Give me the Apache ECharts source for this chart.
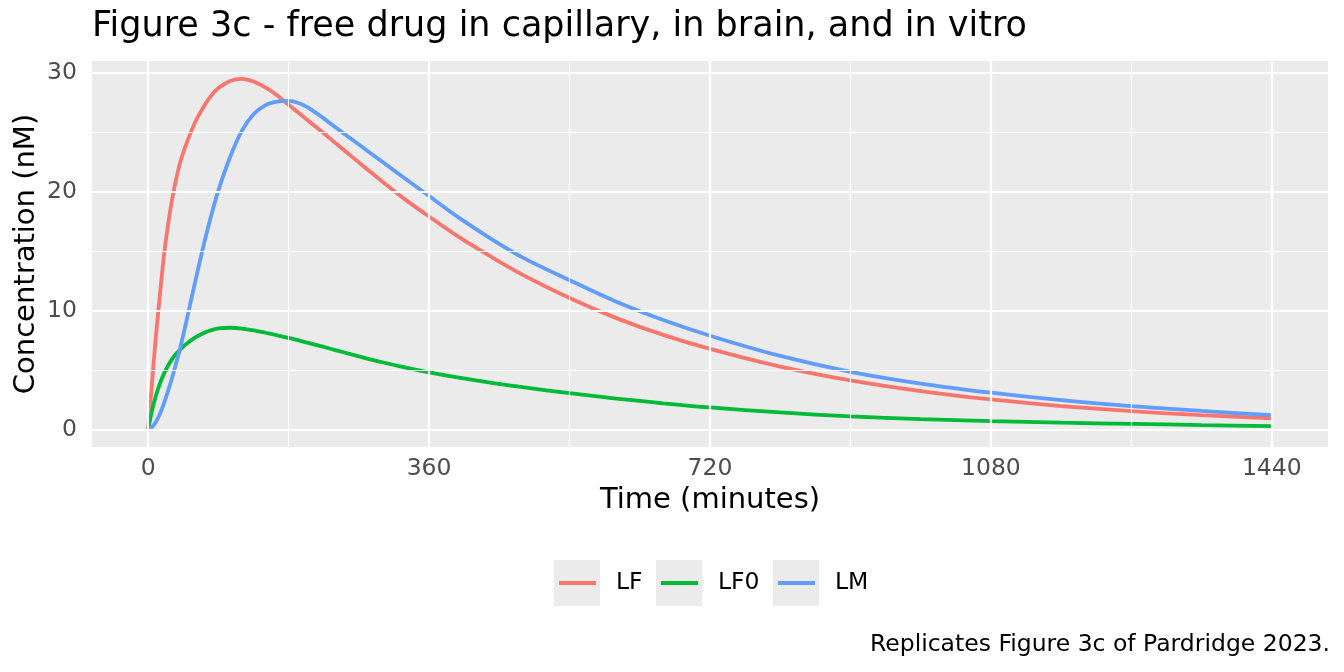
<!DOCTYPE html>
<html>
<head>
<meta charset="utf-8">
<script src="https://cdn.jsdelivr.net/npm/echarts@6/dist/echarts.min.js"></script>
<style>
  html, body { margin: 0; padding: 0; background: #fff; }
  #chart { width: 1344px; height: 672px; }
</style>
</head>
<body>
<div id="chart"></div>
<script>
// time points (minutes) (nM)
var times = [0, 5, 10, 15, 20, 25, 30, 35, 40, 45, 50, 60, 70, 80, 90, 105, 120, 135, 150, 165, 180,
  195, 210, 225, 240, 270, 300, 330, 360, 400, 440, 480, 540, 600, 660, 720, 810, 900, 990,
  1080, 1170, 1260, 1350, 1440];

var lf = [0, 4.0, 7.9, 11.3, 14.5, 17.0, 19.1, 20.8, 22.2, 23.3, 24.2, 25.8, 27.0, 28.0, 28.7, 29.3, 29.47, 29.25, 28.75, 28.1, 27.3,
  26.5, 25.7, 24.9, 24.08, 22.45, 20.85, 19.3, 17.9, 16.1, 14.5, 13.0, 11.05, 9.36, 7.95, 6.78, 5.29, 4.13, 3.23,
  2.52, 1.97, 1.54, 1.2, 0.94];

var lf0 = [0, 1.6, 2.85, 3.85, 4.65, 5.3, 5.85, 6.3, 6.65, 6.97, 7.25, 7.72, 8.07, 8.33, 8.5, 8.55, 8.48, 8.33, 8.13, 7.92, 7.7,
  7.45, 7.2, 6.94, 6.67, 6.15, 5.65, 5.2, 4.8, 4.33, 3.92, 3.55, 3.05, 2.6, 2.2, 1.85, 1.43, 1.1, 0.87,
  0.7, 0.57, 0.47, 0.37, 0.28];

var lm = [0, 0.2, 0.65, 1.3, 2.15, 3.15, 4.2, 5.35, 6.6, 7.95, 9.4, 12.35, 15.2, 17.8, 20.1, 22.9, 25.1, 26.5, 27.25, 27.55, 27.62,
  27.38, 26.85, 26.15, 25.4, 23.95, 22.5, 21.05, 19.62, 17.72, 16.0, 14.45, 12.55, 10.74, 9.2, 7.88, 6.18, 4.85, 3.86,
  3.09, 2.46, 1.96, 1.56, 1.2];

var xTicks = [0, 360, 720, 1080, 1440];
var xMinor = [180, 540, 900, 1260];
var yTicks = [0, 10, 20, 30];
var yMinor = [5, 15, 25];

var names = ['LF', 'LF0', 'LM'];
var colors = ['#F8766D', '#00BA38', '#619CFF'];
var values = [lf, lf0, lm];

var FONT = 'DejaVu Sans';

function pairs(v) {
  return times.map(function (t, i) { return [t, v[i]]; });
}

function gridLines() {
  var d = [];
  xTicks.forEach(function (v) { d.push({ xAxis: v, lineStyle: { width: 2.2 } }); });
  xMinor.forEach(function (v) { d.push({ xAxis: v, lineStyle: { width: 1.1 } }); });
  yTicks.forEach(function (v) { d.push({ yAxis: v, lineStyle: { width: 2.2 } }); });
  yMinor.forEach(function (v) { d.push({ yAxis: v, lineStyle: { width: 1.1 } }); });
  return d;
}

var series = [{
  name: '_grid',
  type: 'line',
  data: [],
  silent: true,
  z: 1,
  markLine: {
    silent: true,
    symbol: 'none',
    label: { show: false },
    lineStyle: { color: '#FFFFFF', type: 'solid' },
    data: gridLines()
  }
}];

names.forEach(function (n, i) {
  series.push({
    name: n,
    type: 'line',
    data: pairs(values[i]),
    smooth: 0.3,
    showSymbol: false,
    symbol: 'none',
    color: colors[i],
    lineStyle: { width: 3.8, color: colors[i] },
    z: 3
  });
});

var legendLeft = [559, 661, 778];
var boxLeft = [554, 656, 773];

var legends = names.map(function (n, i) {
  return {
    data: [n],
    left: legendLeft[i],
    top: 571,
    padding: 0,
    icon: 'rect',
    itemWidth: 37,
    itemHeight: 4,
    selectedMode: false,
    textStyle: { fontFamily: FONT, fontSize: 23.5, color: '#000', lineHeight: 24, padding: [0, 0, 0, 15] }
  };
});

var chart = echarts.init(document.getElementById('chart'));
chart.setOption({
  animation: false,
  backgroundColor: '#FFFFFF',
  title: [{
    text: 'Figure 3c - free drug in capillary, in brain, and in vitro',
    left: 92, top: 9, padding: 0,
    textStyle: { fontFamily: FONT, fontSize: 35, fontWeight: 'normal', color: '#000' }
  }, {
    text: 'Replicates Figure 3c of Pardridge 2023.',
    right: 14, top: 633, padding: 0,
    textStyle: { fontFamily: FONT, fontSize: 23.5, fontWeight: 'normal', color: '#000' }
  }],
  legend: legends,
  graphic: boxLeft.map(function (x) {
    return { type: 'rect', left: x, top: 560, z: -1, shape: { width: 46, height: 46 }, style: { fill: '#EBEBEB' } };
  }),
  grid: {
    left: 92, top: 61, width: 1236, height: 386,
    show: true, backgroundColor: '#EBEBEB', borderWidth: 0
  },
  xAxis: {
    type: 'value',
    min: -72, max: 1512,
    name: 'Time (minutes)',
    nameLocation: 'middle',
    nameGap: 39,
    nameTextStyle: { fontFamily: FONT, fontSize: 29, color: '#000' },
    axisLine: { show: false },
    axisTick: { show: true, customValues: xTicks, length: 5, lineStyle: { color: '#333', width: 2 } },
    axisLabel: {
      customValues: xTicks, margin: 10, fontFamily: FONT, fontSize: 23.5, color: '#4D4D4D',
      formatter: function (v) { return String(v); }
    },
    splitLine: { show: false }
  },
  yAxis: {
    type: 'value',
    min: -1.475, max: 30.975,
    name: 'Concentration (nM)',
    nameLocation: 'middle',
    nameGap: 51,
    nameMoveOverlap: false,
    nameTextStyle: { fontFamily: FONT, fontSize: 29, color: '#000' },
    axisLine: { show: false },
    axisTick: { show: true, customValues: yTicks, length: 5, lineStyle: { color: '#333', width: 2 } },
    axisLabel: {
      customValues: yTicks, margin: 15, fontFamily: FONT, fontSize: 23.5, color: '#4D4D4D',
      formatter: function (v) { return String(v); }
    },
    splitLine: { show: false }
  },
  series: series
});
</script>
</body>
</html>
